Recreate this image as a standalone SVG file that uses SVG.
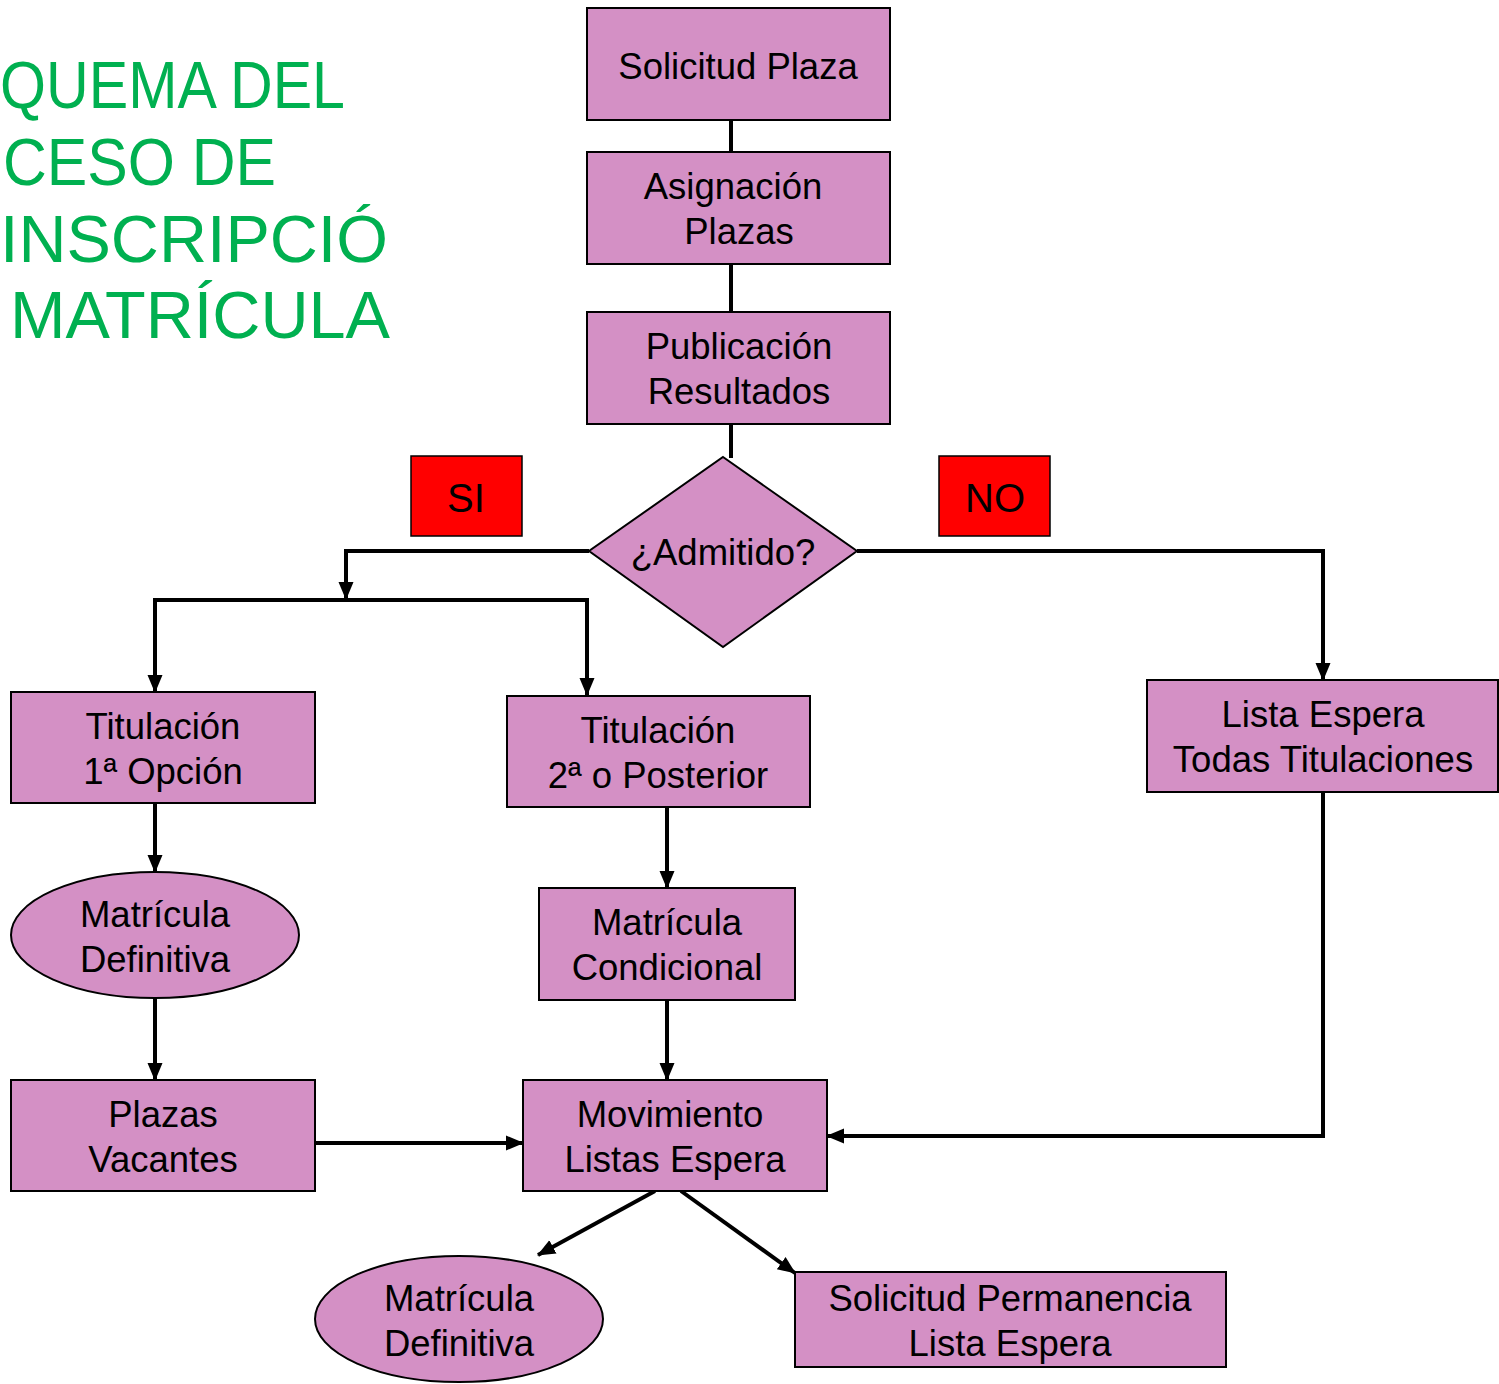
<svg xmlns="http://www.w3.org/2000/svg" width="1499" height="1384" viewBox="0 0 1499 1384">
<defs>
<marker id="ah" markerUnits="userSpaceOnUse" markerWidth="18" markerHeight="18" viewBox="0 0 18 18" refX="17" refY="9" orient="auto">
<path d="M0,1.5 L18,9 L0,16.5 Z" fill="#000"/>
</marker>
<style>
.n{fill:#D490C5;stroke:#000;stroke-width:2}
.t{font-family:"Liberation Sans",Arial,sans-serif;font-size:36.5px;fill:#000;text-anchor:middle}
.c{fill:none;stroke:#000;stroke-width:4}
.a{marker-end:url(#ah)}
.ttl{font-family:"Liberation Sans",Arial,sans-serif;font-size:66px;fill:#00B050}
.lab{fill:#FF0000;stroke:#000;stroke-width:1.5}
</style>
</defs>
<rect width="1499" height="1384" fill="#fff"/>
<g id="title">
<text class="ttl" x="0" y="108" textLength="345" lengthAdjust="spacingAndGlyphs">QUEMA DEL</text>
<text class="ttl" x="3" y="185" textLength="273" lengthAdjust="spacingAndGlyphs">CESO DE</text>
<text class="ttl" x="0" y="262" textLength="388" lengthAdjust="spacingAndGlyphs">INSCRIPCIÓ</text>
<text class="ttl" x="10" y="338" textLength="380" lengthAdjust="spacingAndGlyphs">MATRÍCULA</text>
</g>
<g id="connectors">
<line class="c" x1="731" y1="120" x2="731" y2="153"/>
<line class="c" x1="731" y1="264" x2="731" y2="313"/>
<line class="c" x1="731" y1="424" x2="731" y2="458"/>
<polyline class="c a" points="589,551 346,551 346,599"/>
<polyline class="c a" points="155,600 155,600 155,692"/>
<line class="c" x1="153" y1="600" x2="589" y2="600"/>
<polyline class="c a" points="587,598 587,695"/>
<polyline class="c a" points="857,551 1323,551 1323,680"/>
<line class="c a" x1="155" y1="803" x2="155" y2="872"/>
<line class="c a" x1="155" y1="998" x2="155" y2="1080"/>
<line class="c a" x1="667" y1="807" x2="667" y2="888"/>
<line class="c a" x1="667" y1="1000" x2="667" y2="1080"/>
<line class="c a" x1="315" y1="1143" x2="523" y2="1143"/>
<polyline class="c a" points="1323,792 1323,1136 827,1136"/>
<line class="c a" x1="655" y1="1191" x2="538" y2="1255"/>
<line class="c a" x1="681" y1="1191" x2="795" y2="1273"/>
</g>
<g id="solicitud-plaza">
<rect class="n" x="587" y="8" width="303" height="112"/>
<text class="t" x="738" y="79">Solicitud Plaza</text>
</g>
<g id="asignacion-plazas">
<rect class="n" x="587" y="152" width="303" height="112"/>
<text class="t" x="733" y="199">Asignación</text>
<text class="t" x="739" y="244">Plazas</text>
</g>
<g id="publicacion-resultados">
<rect class="n" x="587" y="312" width="303" height="112"/>
<text class="t" x="739" y="359">Publicación</text>
<text class="t" x="739" y="404">Resultados</text>
</g>
<g id="admitido">
<polygon class="n" points="723,457 857,551 723,647 589,551"/>
<text class="t" x="723" y="565">¿Admitido?</text>
</g>
<g id="si">
<rect class="lab" x="411" y="456" width="111" height="80"/>
<text class="t" x="466" y="512" style="font-size:40px">SI</text>
</g>
<g id="no">
<rect class="lab" x="939" y="456" width="111" height="80"/>
<text class="t" x="995" y="512" style="font-size:40px">NO</text>
</g>
<g id="titulacion-1">
<rect class="n" x="11" y="692" width="304" height="111"/>
<text class="t" x="163" y="739">Titulación</text>
<text class="t" x="163" y="784">1ª Opción</text>
</g>
<g id="titulacion-2">
<rect class="n" x="507" y="696" width="303" height="111"/>
<text class="t" x="658" y="743">Titulación</text>
<text class="t" x="658" y="788">2ª o Posterior</text>
</g>
<g id="lista-espera">
<rect class="n" x="1147" y="680" width="351" height="112"/>
<text class="t" x="1323" y="727">Lista Espera</text>
<text class="t" x="1323" y="772">Todas Titulaciones</text>
</g>
<g id="matricula-definitiva-1">
<ellipse class="n" cx="155" cy="935" rx="144" ry="63"/>
<text class="t" x="155" y="927">Matrícula</text>
<text class="t" x="155" y="972">Definitiva</text>
</g>
<g id="matricula-condicional">
<rect class="n" x="539" y="888" width="256" height="112"/>
<text class="t" x="667" y="935">Matrícula</text>
<text class="t" x="667" y="980">Condicional</text>
</g>
<g id="plazas-vacantes">
<rect class="n" x="11" y="1080" width="304" height="111"/>
<text class="t" x="163" y="1127">Plazas</text>
<text class="t" x="163" y="1172">Vacantes</text>
</g>
<g id="movimiento-listas">
<rect class="n" x="523" y="1080" width="304" height="111"/>
<text class="t" x="670" y="1127">Movimiento</text>
<text class="t" x="675" y="1172">Listas Espera</text>
</g>
<g id="matricula-definitiva-2">
<ellipse class="n" cx="459" cy="1319" rx="144" ry="63"/>
<text class="t" x="459" y="1311">Matrícula</text>
<text class="t" x="459" y="1356">Definitiva</text>
</g>
<g id="solicitud-permanencia">
<rect class="n" x="795" y="1272" width="431" height="95"/>
<text class="t" x="1010" y="1311">Solicitud Permanencia</text>
<text class="t" x="1010" y="1356">Lista Espera</text>
</g>
</svg>
